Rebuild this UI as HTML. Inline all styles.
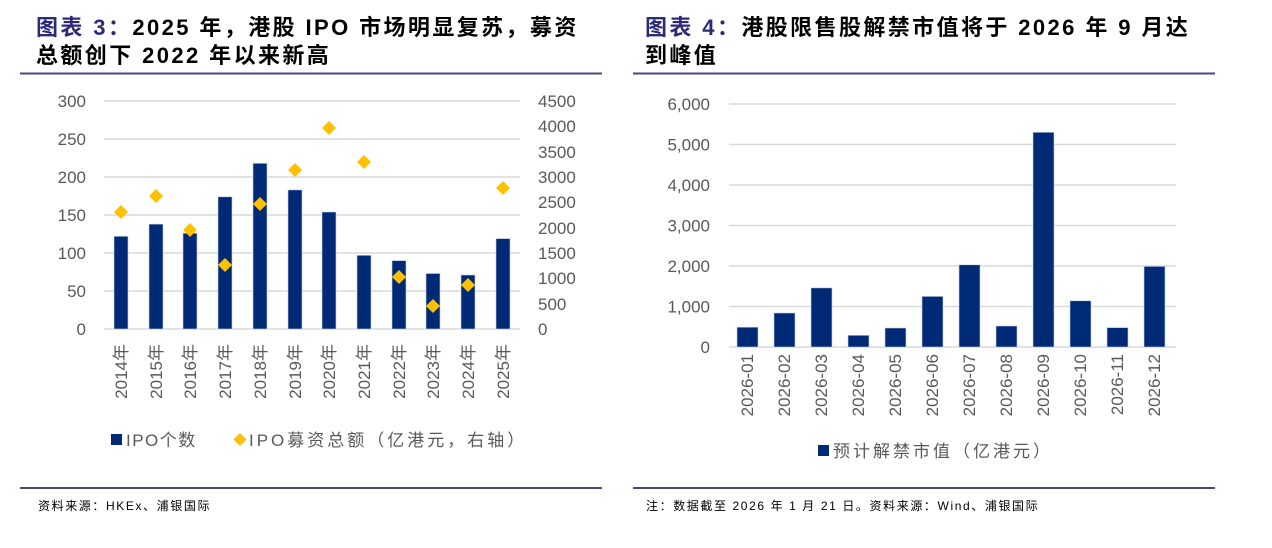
<!DOCTYPE html>
<html><head><meta charset="utf-8"><style>
html,body{margin:0;padding:0;background:#fff;}
svg{display:block;font-family:"Liberation Sans","Noto Sans CJK SC",sans-serif;}
</style></head><body>
<svg width="1272" height="548" viewBox="0 0 1272 548" xmlns="http://www.w3.org/2000/svg">
<g font-size="22" font-weight="bold" letter-spacing="2.4">
<text x="36" y="35"><tspan fill="#2e2a7a">图表 3：</tspan><tspan fill="#000">2025 年，港股 IPO 市场明显复苏，募资</tspan></text>
<text x="36" y="63" fill="#000">总额创下 2022 年以来新高</text>
<text x="645" y="35"><tspan fill="#2e2a7a">图表 4：</tspan><tspan fill="#000">港股限售股解禁市值将于 2026 年 9 月达</tspan></text>
<text x="645" y="63" fill="#000">到峰值</text>
</g>
<line x1="20" y1="73.5" x2="602" y2="73.5" stroke="#4a4585" stroke-width="2"/>
<line x1="633" y1="73.5" x2="1215" y2="73.5" stroke="#4a4585" stroke-width="2"/>
<line x1="20" y1="488" x2="602" y2="488" stroke="#4a4585" stroke-width="2"/>
<line x1="633" y1="488" x2="1215" y2="488" stroke="#4a4585" stroke-width="2"/>
<g font-size="12" fill="#000" letter-spacing="1.6">
<text x="38" y="510">资料来源：HKEx、浦银国际</text>
<text x="646" y="510">注：数据截至 2026 年 1 月 21 日。资料来源：Wind、浦银国际</text>
</g>

<!-- Left chart -->
<g stroke="#d9d9d9" stroke-width="1.5">
<line x1="104" y1="101" x2="520" y2="101"/>
<line x1="104" y1="139" x2="520" y2="139"/>
<line x1="104" y1="177" x2="520" y2="177"/>
<line x1="104" y1="215" x2="520" y2="215"/>
<line x1="104" y1="253" x2="520" y2="253"/>
<line x1="104" y1="291" x2="520" y2="291"/>
<line x1="104" y1="329" x2="520" y2="329"/>
</g>
<g font-size="17" fill="#595959" text-anchor="end">
<text x="86" y="107">300</text><text x="86" y="145">250</text><text x="86" y="183">200</text>
<text x="86" y="221">150</text><text x="86" y="259">100</text><text x="86" y="297">50</text><text x="86" y="335">0</text>
</g>
<g font-size="17" fill="#595959" text-anchor="start">
<text x="538" y="107">4500</text><text x="538" y="132">4000</text><text x="538" y="158">3500</text>
<text x="538" y="183">3000</text><text x="538" y="208">2500</text><text x="538" y="234">2000</text>
<text x="538" y="259">1500</text><text x="538" y="284">1000</text><text x="538" y="310">500</text><text x="538" y="335">0</text>
</g>
<g fill="#002a75" stroke="#c9d3e6" stroke-width="0.6">
<rect x="114" y="236.3" width="14" height="92.7"/>
<rect x="149" y="224.1" width="14" height="104.9"/>
<rect x="183" y="233.2" width="14" height="95.8"/>
<rect x="218" y="196.8" width="14" height="132.2"/>
<rect x="253" y="163.3" width="14" height="165.7"/>
<rect x="288" y="189.9" width="14" height="139.1"/>
<rect x="322" y="212" width="14" height="117"/>
<rect x="357" y="255.3" width="14" height="73.7"/>
<rect x="392" y="260.6" width="14" height="68.4"/>
<rect x="426" y="273.5" width="14" height="55.5"/>
<rect x="461" y="275" width="14" height="54"/>
<rect x="496" y="238.6" width="14" height="90.4"/>
</g>
<g fill="#ffc000">
<path d="M121 205l7 7-7 7-7-7z"/>
<path d="M156 189l7 7-7 7-7-7z"/>
<path d="M190 223l7 7-7 7-7-7z"/>
<path d="M225 258l7 7-7 7-7-7z"/>
<path d="M260 197l7 7-7 7-7-7z"/>
<path d="M295 163l7 7-7 7-7-7z"/>
<path d="M329 121l7 7-7 7-7-7z"/>
<path d="M364 155l7 7-7 7-7-7z"/>
<path d="M399 270l7 7-7 7-7-7z"/>
<path d="M433 299l7 7-7 7-7-7z"/>
<path d="M468 278l7 7-7 7-7-7z"/>
<path d="M503 181l7 7-7 7-7-7z"/>
</g>
<g font-size="17" fill="#595959" text-anchor="end">
<text transform="translate(127,344) rotate(-90)">2014年</text>
<text transform="translate(162,344) rotate(-90)">2015年</text>
<text transform="translate(196,344) rotate(-90)">2016年</text>
<text transform="translate(231,344) rotate(-90)">2017年</text>
<text transform="translate(266,344) rotate(-90)">2018年</text>
<text transform="translate(301,344) rotate(-90)">2019年</text>
<text transform="translate(335,344) rotate(-90)">2020年</text>
<text transform="translate(370,344) rotate(-90)">2021年</text>
<text transform="translate(405,344) rotate(-90)">2022年</text>
<text transform="translate(439,344) rotate(-90)">2023年</text>
<text transform="translate(474,344) rotate(-90)">2024年</text>
<text transform="translate(509,344) rotate(-90)">2025年</text>
</g>
<rect x="111" y="434" width="11" height="11" fill="#002a75"/>
<text x="126" y="446" font-size="17" fill="#595959" letter-spacing="1.5">IPO个数</text>
<path d="M240 433l6.5 6.5-6.5 6.5-6.5-6.5z" fill="#ffc000"/>
<text x="249" y="446" font-size="17" fill="#595959" letter-spacing="3">IPO募资总额（亿港元，右轴）</text>

<!-- Right chart -->
<g stroke="#d9d9d9" stroke-width="1.5">
<line x1="729" y1="104" x2="1176" y2="104"/>
<line x1="729" y1="144.5" x2="1176" y2="144.5"/>
<line x1="729" y1="185" x2="1176" y2="185"/>
<line x1="729" y1="225.5" x2="1176" y2="225.5"/>
<line x1="729" y1="266" x2="1176" y2="266"/>
<line x1="729" y1="306.5" x2="1176" y2="306.5"/>
<line x1="729" y1="347" x2="1176" y2="347"/>
</g>
<g font-size="17" fill="#595959" text-anchor="end">
<text x="710" y="110">6,000</text><text x="710" y="150.5">5,000</text><text x="710" y="191">4,000</text>
<text x="710" y="231.5">3,000</text><text x="710" y="272">2,000</text><text x="710" y="312.5">1,000</text><text x="710" y="353">0</text>
</g>
<g fill="#002a75" stroke="#c9d3e6" stroke-width="0.6">
<rect x="737" y="327.2" width="21" height="19.8"/>
<rect x="774" y="313" width="21" height="34"/>
<rect x="811" y="287.9" width="21" height="59.1"/>
<rect x="848" y="335.3" width="21" height="11.7"/>
<rect x="885" y="328" width="21" height="19"/>
<rect x="922" y="296.4" width="21" height="50.6"/>
<rect x="959" y="264.8" width="21" height="82.2"/>
<rect x="996" y="326" width="21" height="21"/>
<rect x="1033" y="132.3" width="21" height="214.7"/>
<rect x="1070" y="300.8" width="21" height="46.2"/>
<rect x="1107" y="327.6" width="21" height="19.4"/>
<rect x="1144" y="266.4" width="21" height="80.6"/>
</g>
<g font-size="17" fill="#595959" text-anchor="end">
<text transform="translate(753,354) rotate(-90)">2026-01</text>
<text transform="translate(790,354) rotate(-90)">2026-02</text>
<text transform="translate(827,354) rotate(-90)">2026-03</text>
<text transform="translate(864,354) rotate(-90)">2026-04</text>
<text transform="translate(901,354) rotate(-90)">2026-05</text>
<text transform="translate(938,354) rotate(-90)">2026-06</text>
<text transform="translate(975,354) rotate(-90)">2026-07</text>
<text transform="translate(1012,354) rotate(-90)">2026-08</text>
<text transform="translate(1049,354) rotate(-90)">2026-09</text>
<text transform="translate(1086,354) rotate(-90)">2026-10</text>
<text transform="translate(1123,354) rotate(-90)">2026-11</text>
<text transform="translate(1160,354) rotate(-90)">2026-12</text>
</g>
<rect x="818" y="445" width="11" height="11" fill="#002a75"/>
<text x="833" y="457" font-size="17" fill="#595959" letter-spacing="3">预计解禁市值（亿港元）</text>
</svg>
</body></html>
